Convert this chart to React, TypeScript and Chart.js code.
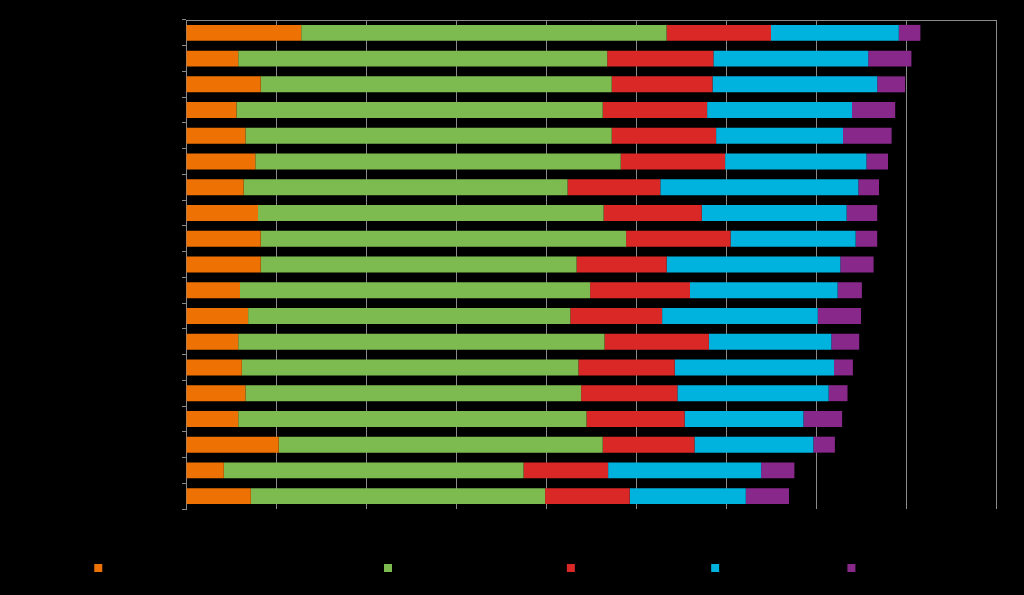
import React, { useEffect, useRef } from "react";
import { Chart, registerables } from "chart.js";

Chart.register(...registerables);

const categories = [
  "Category 1", "Category 2", "Category 3", "Category 4", "Category 5",
  "Category 6", "Category 7", "Category 8", "Category 9", "Category 10",
  "Category 11", "Category 12", "Category 13", "Category 14", "Category 15",
  "Category 16", "Category 17", "Category 18", "Category 19",
];

const seriesNames = [
  "First component of the total value, %",
  "Second component",
  "Third portion",
  "Fourth area",
  "Others",
];

const orangeValues = [12.8, 5.8, 8.3, 5.6, 6.6, 7.7, 6.4, 8.0, 8.3, 8.3, 6.0, 6.9, 5.8, 6.2, 6.6, 5.8, 10.3, 4.2, 7.2];
const greenValues = [40.6, 41.0, 39.0, 40.7, 40.7, 40.6, 36.0, 38.4, 40.6, 35.1, 38.9, 35.8, 40.7, 37.4, 37.3, 38.7, 36.0, 33.3, 32.7];
const redValues = [11.6, 11.8, 11.2, 11.6, 11.6, 11.6, 10.3, 10.9, 11.6, 10.0, 11.1, 10.2, 11.6, 10.7, 10.7, 10.9, 10.2, 9.4, 9.4];
const cyanValues = [14.2, 17.2, 18.3, 16.1, 14.1, 15.7, 22.0, 16.1, 13.9, 19.3, 16.4, 17.3, 13.6, 17.7, 16.8, 13.2, 13.2, 17.0, 12.9];
const purpleValues = [2.4, 4.8, 3.1, 4.8, 5.4, 2.4, 2.3, 3.4, 2.4, 3.7, 2.7, 4.8, 3.1, 2.1, 2.1, 4.3, 2.4, 3.7, 4.8];

const colors = ["#EE7203", "#7DBB51", "#DA2826", "#00B2DE", "#87288A"];

export default function App() {
  const canvasRef = useRef<HTMLCanvasElement | null>(null);

  useEffect(() => {
    document.body.style.background = "#000";
    const canvas = canvasRef.current;
    if (!canvas) return;
    const values = [orangeValues, greenValues, redValues, cyanValues, purpleValues];
    const chart = new Chart(canvas, {
      type: "bar",
      data: {
        labels: categories,
        datasets: values.map((v, i) => ({
          label: seriesNames[i],
          data: v,
          backgroundColor: colors[i],
          borderWidth: 0,
          barPercentage: 0.62,
          categoryPercentage: 1,
        })),
      },
      options: {
        indexAxis: "y",
        responsive: false,
        animation: false,
        layout: { padding: { top: 20, right: 28, left: 0, bottom: 11 } },
        plugins: {
          tooltip: { enabled: false },
          legend: {
            position: "bottom",
            labels: {
              color: "#000",
              boxWidth: 8,
              boxHeight: 8,
              padding: 53,
              font: { family: "DejaVu Sans", size: 12 },
            },
          },
        },
        scales: {
          x: {
            position: "top",
            stacked: true,
            min: 0,
            max: 90,
            ticks: { display: false, stepSize: 10 },
            grid: { color: "#8a8a8a", lineWidth: 1, drawTicks: false },
            border: { color: "#8a8a8a", width: 1 },
          },
          y: {
            stacked: true,
            ticks: { color: "#000", font: { family: "DejaVu Sans", size: 12 } },
            grid: { drawOnChartArea: false, drawTicks: true, tickLength: 4, color: "#8a8a8a" },
            border: { color: "#8a8a8a", width: 1 },
            afterFit: (scale: any) => {
              scale.width = 186;
            },
          },
        },
      },
    });
    return () => chart.destroy();
  }, []);

  return (
    <div style={{ position: "fixed", left: 0, top: 0, width: 1024, height: 595, background: "#000" }}>
      <canvas ref={canvasRef} width={1024} height={595} style={{ display: "block" }} />
    </div>
  );
}
